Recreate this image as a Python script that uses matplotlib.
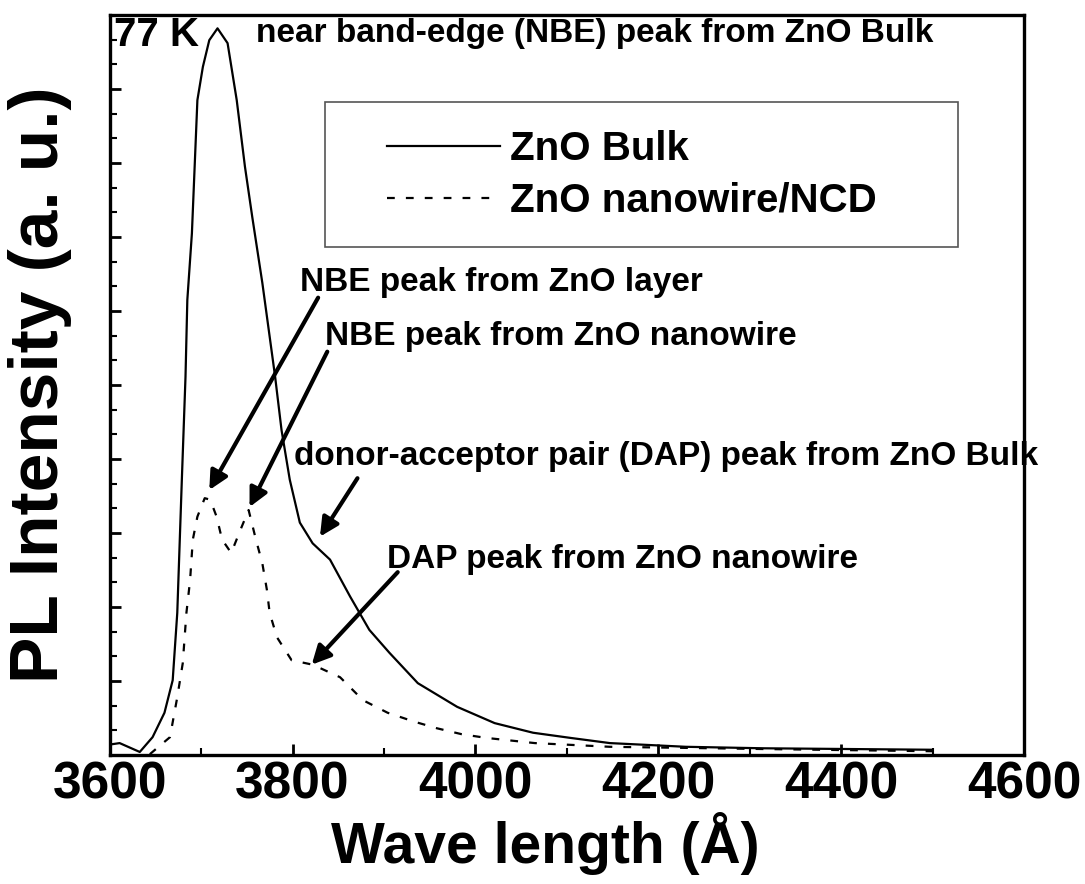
import numpy as np
import matplotlib.pyplot as plt
from matplotlib.ticker import MultipleLocator
from matplotlib.patches import Rectangle

plt.rcParams['font.family'] = ['Liberation Sans', 'DejaVu Sans']
plt.rcParams['font.weight'] = 'bold'

# ZnO bulk PL spectrum at 77 K
bulk_wl = [3600, 3611, 3633, 3647, 3660, 3669, 3674, 3679, 3683, 3685, 3690, 3693,
           3696, 3702, 3709, 3718, 3729, 3739, 3748, 3756, 3767, 3781, 3788, 3797,
           3808, 3822, 3841, 3863, 3884, 3906, 3937, 3980, 4021, 4063, 4104, 4147,
           4230, 4314, 4500]
bulk_int = [0.014, 0.016, 0.004, 0.024, 0.057, 0.101, 0.192, 0.372, 0.511, 0.615,
            0.705, 0.795, 0.885, 0.930, 0.966, 0.982, 0.962, 0.885, 0.795, 0.727,
            0.638, 0.511, 0.439, 0.372, 0.314, 0.286, 0.264, 0.214, 0.169, 0.138,
            0.097, 0.065, 0.043, 0.030, 0.023, 0.016, 0.011, 0.009, 0.007]

# ZnO nanowire / NCD spectrum
nw_wl = [3644, 3666, 3674, 3680, 3684, 3688, 3691, 3696, 3704, 3710, 3717, 3723,
         3733, 3744, 3752, 3760, 3767, 3772, 3775, 3783, 3799, 3822, 3852, 3877,
         3904, 3933, 3958, 3985, 4012, 4065, 4147, 4314, 4500]
nw_int = [0.001, 0.024, 0.078, 0.124, 0.192, 0.236, 0.291, 0.322, 0.347, 0.345,
          0.322, 0.291, 0.273, 0.307, 0.331, 0.291, 0.259, 0.223, 0.192, 0.159,
          0.128, 0.122, 0.105, 0.074, 0.057, 0.045, 0.036, 0.028, 0.023, 0.016,
          0.011, 0.008, 0.005]

fig = plt.figure(figsize=(10.85, 8.84), dpi=100)
ax = fig.add_axes([0.101, 0.146, 0.843, 0.837])

ax.plot(bulk_wl, bulk_int, color='black', lw=1.6, label='ZnO Bulk')
ax.plot(nw_wl, nw_int, color='black', lw=1.6, ls=(0, (3.5, 5)), label='ZnO nanowire/NCD')

ax.set_xlim(3600, 4600)
ax.set_ylim(0, 1.0)
ax.xaxis.set_major_locator(MultipleLocator(200))
ax.xaxis.set_minor_locator(MultipleLocator(100))
ax.yaxis.set_major_locator(MultipleLocator(0.1))
ax.yaxis.set_minor_locator(MultipleLocator(1 / 30))
ax.tick_params(axis='both', which='both', direction='in', top=False, right=False)
ax.tick_params(axis='both', which='major', length=8, width=2)
ax.tick_params(axis='both', which='minor', length=5, width=1.5)
ax.tick_params(axis='x', labelsize=37, pad=4)
ax.tick_params(axis='y', labelleft=False)
for lab in ax.get_xticklabels():
    lab.set_fontweight('bold')
for sp in ax.spines.values():
    sp.set_linewidth(2.4)

ax.set_xlabel('Wave length (Å)', fontsize=41, fontweight='bold', labelpad=2)
ax.xaxis.label.set_x(0.476)
ax.set_ylabel('PL Intensity (a. u.)', fontsize=50, fontweight='bold', labelpad=24)

# legend box
ax.add_patch(Rectangle((0.236, 0.686), 0.692, 0.196, transform=ax.transAxes,
                       fill=False, edgecolor='#555555', lw=1.2))
ax.legend(loc='center left', bbox_to_anchor=(0.264, 0.784), frameon=False,
          prop={'size': 29, 'weight': 'bold'}, handlelength=2.8,
          handletextpad=0.25, labelspacing=0.35)

ax.text(3605, 0.973, '77 K', fontsize=29, fontweight='bold', va='center')
ax.text(3760, 0.975, 'near band-edge (NBE) peak from ZnO Bulk', fontsize=24,
        fontweight='bold', va='center')

arrow = dict(arrowstyle='-|>', lw=3, color='black', mutation_scale=28, shrinkA=0, shrinkB=0)
ax.annotate('', xy=(3709, 0.358), xytext=(3828, 0.618), arrowprops=arrow)
ax.annotate('', xy=(3753, 0.335), xytext=(3838, 0.545), arrowprops=arrow)
ax.annotate('', xy=(3830, 0.295), xytext=(3871, 0.374), arrowprops=arrow)
ax.annotate('', xy=(3821, 0.122), xytext=(3915, 0.247), arrowprops=arrow)

ax.text(3808, 0.639, 'NBE peak from ZnO layer', fontsize=24, fontweight='bold', va='center')
ax.text(3835, 0.565, 'NBE peak from ZnO nanowire', fontsize=24, fontweight='bold', va='center')
ax.text(3802, 0.403, 'donor-acceptor pair (DAP) peak from ZnO Bulk', fontsize=24,
        fontweight='bold', va='center')
ax.text(3903, 0.264, 'DAP peak from ZnO nanowire', fontsize=24, fontweight='bold', va='center')

fig.savefig('out.png', dpi=100)
